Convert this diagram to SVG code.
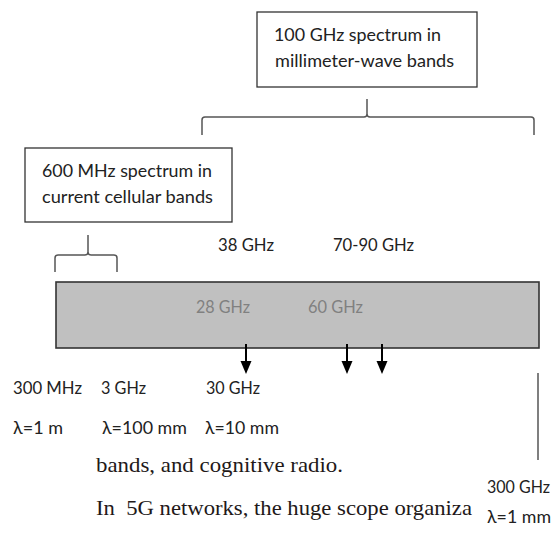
<svg xmlns="http://www.w3.org/2000/svg" width="555" height="536" viewBox="0 0 555 536">
<style>
.s{font-family:Lato,"Open Sans","Liberation Sans",sans-serif;font-size:17.5px;fill:#222}
.g{fill:#808080}
.r{font-family:"Liberation Serif","Times New Roman",serif;font-size:22px;fill:#221818}
.box{fill:#fff;stroke:#333;stroke-width:1.3}
.br{fill:none;stroke:#555;stroke-width:1.5}
.ar{stroke:#000;stroke-width:2}
.hd{fill:#000}
</style>
<rect width="555" height="536" fill="#fff"/>
<g id="mmwave-box">
<rect class="box" x="257" y="12" width="220" height="75"/>
<text class="s" x="274" y="41" textLength="167" lengthAdjust="spacingAndGlyphs">100 GHz spectrum in</text>
<text class="s" x="275" y="67" textLength="179" lengthAdjust="spacingAndGlyphs">millimeter-wave bands</text>
</g>
<g id="cellular-box">
<rect class="box" x="25" y="148" width="207" height="74"/>
<text class="s" x="42" y="177" textLength="170" lengthAdjust="spacingAndGlyphs">600 MHz spectrum in</text>
<text class="s" x="42" y="203" textLength="171" lengthAdjust="spacingAndGlyphs">current cellular bands</text>
</g>
<g id="spectrum-bar">
<rect x="56" y="282" width="483" height="66" fill="#c0c0c0" stroke="#333" stroke-width="1.6"/>
<text class="s g" x="196" y="313" textLength="54" lengthAdjust="spacingAndGlyphs">28 GHz</text>
<text class="s g" x="308" y="313" textLength="55" lengthAdjust="spacingAndGlyphs">60 GHz</text>
</g>
<g id="labels">
<text class="s" x="218" y="251" textLength="56" lengthAdjust="spacingAndGlyphs">38 GHz</text>
<text class="s" x="333" y="251" textLength="81" lengthAdjust="spacingAndGlyphs">70-90 GHz</text>
<text class="s" x="13" y="394" textLength="69" lengthAdjust="spacingAndGlyphs">300 MHz</text>
<text class="s" x="101" y="394" textLength="45" lengthAdjust="spacingAndGlyphs">3 GHz</text>
<text class="s" x="206" y="394" textLength="54" lengthAdjust="spacingAndGlyphs">30 GHz</text>
<text class="s" x="13" y="434" textLength="50" lengthAdjust="spacingAndGlyphs">λ=1 m</text>
<text class="s" x="102" y="434" textLength="85" lengthAdjust="spacingAndGlyphs">λ=100 mm</text>
<text class="s" x="205" y="434" textLength="74" lengthAdjust="spacingAndGlyphs">λ=10 mm</text>
<text class="s" x="487" y="493" textLength="63" lengthAdjust="spacingAndGlyphs">300 GHz</text>
<text class="s" x="487" y="523" textLength="64" lengthAdjust="spacingAndGlyphs">λ=1 mm</text>
</g>
<g id="body-text">
<text class="r" x="96" y="472" textLength="247" lengthAdjust="spacingAndGlyphs">bands, and cognitive radio.</text>
<text class="r" x="96" y="515" textLength="376" lengthAdjust="spacingAndGlyphs">In&#160; 5G networks, the huge scope organiza</text>
</g>
<g id="connectors">
<path class="br" d="M202,135 L202,120 Q202,117 205,117 L364,117 Q367,117 367,114 L367,99 M367,114 Q367,117 370,117 L531,117 Q534,117 534,120 L534,135"/>
<path class="br" d="M55,272 L55,258 Q55,255 58,255 L85,255 Q88,255 88,252 L88,235 M88,252 Q88,255 91,255 L114,255 Q117,255 117,258 L117,272"/>
<line class="ar" x1="246" y1="344" x2="246" y2="363"/>
<polygon class="hd" points="240.5,361 251.5,361 246,374"/>
<line class="ar" x1="347" y1="344" x2="347" y2="363"/>
<polygon class="hd" points="341.5,361 352.5,361 347,374"/>
<line class="ar" x1="382" y1="344" x2="382" y2="363"/>
<polygon class="hd" points="376.5,361 387.5,361 382,374"/>
<line class="br" x1="538" y1="373" x2="538" y2="460"/>
</g>
</svg>
